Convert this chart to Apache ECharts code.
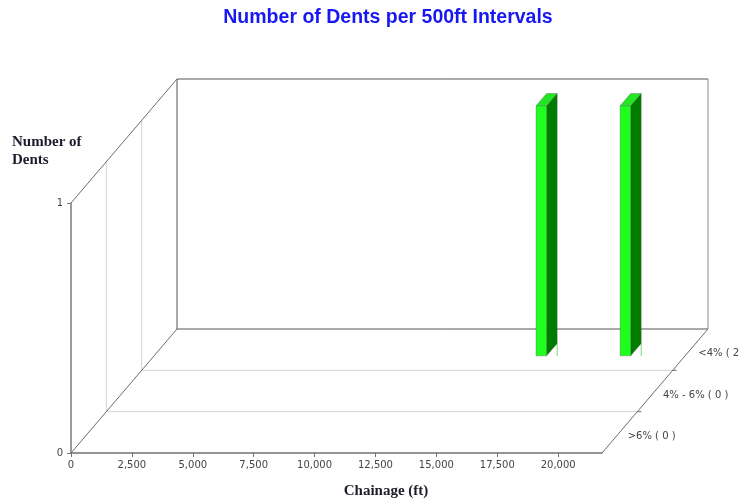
<!DOCTYPE html>
<html>
<head>
<meta charset="utf-8">
<script src="https://cdn.jsdelivr.net/npm/echarts@6/dist/echarts.min.js"></script>
<style>
  html, body { margin: 0; padding: 0; background: #fff; }
  #chart { width: 742px; height: 499px; }
</style>
</head>
<body>
<div id="chart"></div>
<script>
// Depth rows of the 3D floor, front to back
const depthCategories = ['>6%', '4% - 6%', '<4%'];

// Dents per 500 ft interval: interval chainage (ft), depth row, dent count
const dentChainage = [15900, 19350];
const dentRow = [2, 2];
const dentCount = [1, 1];

// Axis ticks
const chainageTicks = [0, 2500, 5000, 7500, 10000, 12500, 15000, 17500, 20000];
const countTicks = [0, 1];
const chainageMax = 21800;

// Oblique projection: pixel offset of the full floor depth
const DEPTH = [106, -124];
const BAR_WIDTH_FT = 430;     // bar width along chainage
const BAR_DEPTH = 0.1;        // bar thickness as a fraction of the floor depth
const ROWS = depthCategories.length;

// Totals shown beside each depth row
const rowTotals = depthCategories.map((_, i) =>
  dentRow.reduce((s, r, k) => s + (r === i ? dentCount[k] : 0), 0));

const barData = dentChainage.map((x, i) => [x, dentRow[i], dentCount[i]]);

function shift(p, d) {
  return [p[0] + DEPTH[0] * d, p[1] + DEPTH[1] * d];
}

function line(a, b, stroke, width, z2) {
  return {
    type: 'line',
    shape: { x1: a[0], y1: a[1], x2: b[0], y2: b[1] },
    style: { stroke: stroke, lineWidth: width || 1 },
    z2: z2 || 0
  };
}

// Back wall, left wall, floor grid and depth labels
function renderFrame(params, api) {
  const o = api.coord([0, 0]);
  const t = api.coord([0, countTicks[countTicks.length - 1]]);
  const r = api.coord([chainageMax, 0]);
  const rt = api.coord([chainageMax, countTicks[countTicks.length - 1]]);
  const children = [];
  const light = '#d4d4d4';
  const dark = '#555555';
  const diag = '#6e6e6e';

  for (let i = 1; i < ROWS; i++) {
    const d = i / ROWS;
    children.push(line(shift(o, d), shift(r, d), light, 1));
    children.push(line(shift(o, d), shift(t, d), light, 1));
    const p = shift(r, d);
    children.push(line(p, [p[0] + 4, p[1]], diag, 1));
  }

  // back wall
  const bt = shift(t, 1), bo = shift(o, 1), br = shift(r, 1), brt = shift(rt, 1);
  children.push(line(bt, brt, dark, 1));
  children.push(line(brt, br, '#8a8a8a', 1));
  children.push(line(bo, br, dark, 1));
  children.push(line(bt, bo, dark, 1));

  // receding edges
  children.push(line(t, bt, diag, 1));
  children.push(line(o, bo, diag, 1));
  children.push(line(r, br, diag, 1));

  depthCategories.forEach((name, i) => {
    const p = shift(r, (i + 0.5) / ROWS);
    children.push({
      type: 'text',
      style: {
        text: name + ' ( ' + rowTotals[i] + ' )',
        x: p[0] + 8, y: p[1] + 4,
        align: 'left', verticalAlign: 'middle',
        font: '10px "DejaVu Sans"',
        fill: '#444444'
      }
    });
  });

  return { type: 'group', children: children };
}

// 3D bar: front face, right side face and top face
function renderBar(params, api) {
  const x = api.value(0), row = api.value(1), v = api.value(2);
  const c = (row + 0.5) / ROWS;
  const d0 = c - BAR_DEPTH / 2, d1 = c + BAR_DEPTH / 2;
  const bl = api.coord([x - BAR_WIDTH_FT / 2, 0]);
  const tr = api.coord([x + BAR_WIDTH_FT / 2, v]);
  const L = bl[0], R = tr[0], B = bl[1], T = tr[1];
  const fTL = shift([L, T], d0), fTR = shift([R, T], d0);
  const fBL = shift([L, B], d0), fBR = shift([R, B], d0);
  const bTL = shift([L, T], d1), bTR = shift([R, T], d1), bBR = shift([R, B], d1);
  const edge = 'rgba(70,70,70,0.55)';
  return {
    type: 'group',
    children: [
      line(bBR, [bBR[0], fBR[1]], '#7fd67f', 1),
      {
        type: 'polygon',
        shape: { points: [fTR, bTR, bBR, fBR] },
        style: { fill: '#007d00', stroke: edge, lineWidth: 0.6 }
      },
      {
        type: 'polygon',
        shape: { points: [fTL, bTL, bTR, fTR] },
        style: { fill: '#22e622', stroke: edge, lineWidth: 0.6 }
      },
      {
        type: 'polygon',
        shape: { points: [fTL, fTR, fBR, fBL] },
        style: { fill: '#1eff1e', stroke: edge, lineWidth: 0.6 }
      }
    ]
  };
}

const chart = echarts.init(document.getElementById('chart'), null, { renderer: 'canvas' });

chart.setOption({
  animation: false,
  backgroundColor: '#ffffff',
  grid: { left: 71, right: 140, top: 203, bottom: 46, containLabel: false },
  xAxis: {
    type: 'value',
    min: 0,
    max: chainageMax,
    axisLine: { show: true, lineStyle: { color: '#707070', width: 1.5 } },
    axisTick: { show: true, length: 4, customValues: chainageTicks, lineStyle: { color: '#707070' } },
    axisLabel: {
      customValues: chainageTicks,
      formatter: v => v.toLocaleString('en-US'),
      margin: 7,
      fontFamily: 'DejaVu Sans',
      fontSize: 10,
      color: '#444444'
    },
    splitLine: { show: false }
  },
  yAxis: {
    type: 'value',
    min: 0,
    max: 1,
    interval: 1,
    axisLine: { show: true, lineStyle: { color: '#7a7a7a', width: 1.5 } },
    axisTick: { show: true, length: 4, lineStyle: { color: '#7a7a7a' } },
    axisLabel: {
      margin: 8,
      fontFamily: 'DejaVu Sans',
      fontSize: 10,
      color: '#444444'
    },
    splitLine: { show: false }
  },
  graphic: [
    {
      type: 'text', x: 388, y: 18,
      style: {
        text: 'Number of Dents per 500ft Intervals',
        align: 'center', verticalAlign: 'middle',
        font: 'bold 19.5px "Liberation Sans"',
        fill: '#1818f0'
      }
    },
    {
      type: 'text', x: 12, y: 133,
      style: {
        text: 'Number of\nDents',
        align: 'left', verticalAlign: 'top',
        font: 'bold 15px "Liberation Serif"',
        lineHeight: 18,
        fill: '#1c1c2c'
      }
    },
    {
      type: 'text', x: 386, y: 491,
      style: {
        text: 'Chainage (ft)',
        align: 'center', verticalAlign: 'middle',
        font: 'bold 15px "Liberation Serif"',
        fill: '#1c1c2c'
      }
    }
  ],
  series: [
    {
      type: 'custom',
      name: 'frame',
      z: 1,
      silent: true,
      renderItem: renderFrame,
      data: [[0, 0]]
    },
    {
      type: 'custom',
      name: 'Dents',
      z: 3,
      renderItem: renderBar,
      encode: { x: 0, y: 2 },
      data: barData
    }
  ]
});
</script>
</body>
</html>
